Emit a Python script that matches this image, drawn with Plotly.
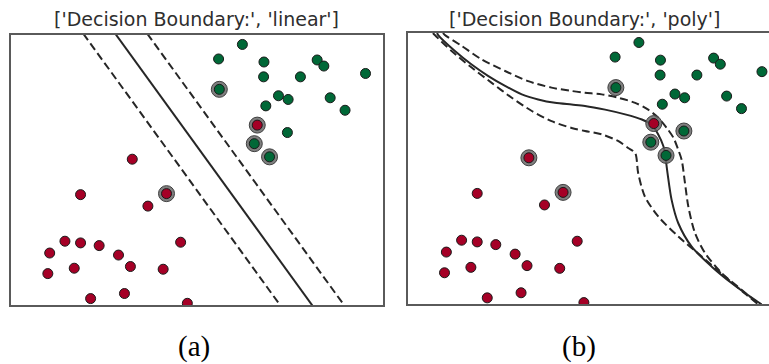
import numpy as np
import plotly.graph_objects as go

# ---------------- data ----------------
green_x = [6.22, 5.58, 6.80, 8.23, 8.41, 9.53, 6.79, 7.78, 5.60, 7.19, 7.45, 8.58, 6.85, 8.98, 7.43, 6.54, 6.95]
green_y = [7.72, 7.29, 7.20, 7.26, 7.08, 6.86, 6.76, 6.76, 6.39, 6.20, 6.09, 6.14, 5.90, 5.77, 5.11, 4.78, 4.39]
red_x = [6.62, 3.26, 1.87, 4.18, 3.68, 1.45, 1.87, 2.37, 4.56, 1.04, 2.89, 1.70, 3.21, 4.09, 0.99, 2.14, 3.05, 4.74]
red_y = [5.33, 4.32, 3.27, 3.30, 2.93, 1.89, 1.84, 1.76, 1.86, 1.54, 1.48, 1.09, 1.14, 1.06, 0.93, 0.19, 0.34, 0.05]

# support vector indices
sv_linear_green = [8, 15, 16]
sv_linear_red = [0, 3]
sv_poly_green = [8, 14, 15, 16]
sv_poly_red = [0, 1, 3]

# linear decision function  w1*x + w2*y + b
lin_w = [1.163, 0.765]
lin_b = -9.41
lin_levels = [-1, 0, 1]

# poly kernel boundary (f = 0) and margins (f = +/-1)
poly_zero_x = [0.79, 0.82, 1.27, 1.72, 2.17, 2.62, 3.07, 3.51, 3.96, 4.41, 4.77, 5.31, 5.85, 6.30, 6.56, 6.74, 6.88, 6.92, 6.99, 7.10, 7.28, 7.64, 8.18, 8.72, 9.34, 9.52]
poly_zero_y = [8.00, 7.94, 7.47, 7.07, 6.73, 6.44, 6.19, 6.04, 5.94, 5.89, 5.85, 5.74, 5.60, 5.45, 5.30, 5.01, 4.66, 4.46, 3.87, 3.08, 2.39, 1.70, 1.11, 0.62, 0.13, 0.00]
poly_pos_x = [0.95, 1.00, 1.45, 1.99, 2.62, 3.24, 3.87, 4.41, 4.77, 5.22, 5.67, 6.12, 6.47, 6.74, 6.97, 7.15, 7.26, 7.37, 7.46, 7.55, 7.73, 8.00, 8.45, 8.99, 9.43, 9.48]
poly_pos_y = [8.00, 7.94, 7.62, 7.22, 6.88, 6.58, 6.39, 6.29, 6.24, 6.19, 6.09, 5.94, 5.74, 5.50, 5.20, 4.91, 4.61, 4.26, 3.57, 2.88, 2.10, 1.51, 0.92, 0.42, 0.03, 0.00]
poly_neg_x = [0.68, 0.73, 1.18, 1.72, 2.26, 2.80, 3.34, 3.87, 4.41, 4.77, 5.22, 5.67, 5.93, 6.12, 6.20, 6.38, 6.74, 7.28, 7.91, 8.54, 9.07, 9.43]
poly_neg_y = [8.00, 7.94, 7.47, 6.98, 6.53, 6.09, 5.70, 5.40, 5.20, 5.11, 5.01, 4.81, 4.61, 4.46, 3.87, 3.18, 2.59, 2.00, 1.41, 0.81, 0.32, 0.00]

titles = ["['Decision Boundary:', 'linear']", "['Decision Boundary:', 'poly']"]
captions = ["(a)", "(b)"]

# ---------------- styles ----------------
RED = "#a50026"
GREEN = "#006837"
LINE = "#262626"
FRAME = "#5a5a5a"
DASH = "8px,4px"
W, H = 769, 364

fig = go.Figure()


def add_panel(xa, ya, sv_g, sv_r):
    gx = np.array(green_x); gy = np.array(green_y)
    rx = np.array(red_x); ry = np.array(red_y)
    svx = list(gx[sv_g]) + list(rx[sv_r])
    svy = list(gy[sv_g]) + list(ry[sv_r])
    fig.add_trace(go.Scatter(x=svx, y=svy, mode="markers", xaxis=xa, yaxis=ya,
                             marker=dict(size=16, color="rgba(105,105,105,0.85)",
                                         line=dict(width=1, color="#404040")),
                             showlegend=False, hoverinfo="skip"))
    fig.add_trace(go.Scatter(x=green_x, y=green_y, mode="markers", xaxis=xa, yaxis=ya,
                             marker=dict(size=10, color=GREEN, line=dict(width=1, color="#1a1a1a")),
                             showlegend=False))
    fig.add_trace(go.Scatter(x=red_x, y=red_y, mode="markers", xaxis=xa, yaxis=ya,
                             marker=dict(size=10, color=RED, line=dict(width=1, color="#1a1a1a")),
                             showlegend=False))


# left: linear kernel lines
yy = np.array([-0.5, 8.5])
for lev in lin_levels:
    xx = (lev - lin_b - lin_w[1] * yy) / lin_w[0]
    fig.add_trace(go.Scatter(x=xx, y=yy, mode="lines", xaxis="x", yaxis="y",
                             line=dict(color=LINE, width=2,
                                       dash="solid" if lev == 0 else DASH),
                             showlegend=False, hoverinfo="skip"))
add_panel("x", "y", sv_linear_green, sv_linear_red)

# right: poly kernel curves
for cx, cy, d in [(poly_neg_x, poly_neg_y, DASH),
                  (poly_pos_x, poly_pos_y, DASH),
                  (poly_zero_x, poly_zero_y, "solid")]:
    fig.add_trace(go.Scatter(x=cx, y=cy, mode="lines", xaxis="x2", yaxis="y2",
                             line=dict(color=LINE, width=2, dash=d, shape="spline", smoothing=0.8),
                             showlegend=False, hoverinfo="skip"))
add_panel("x2", "y2", sv_poly_green, sv_poly_red)

ax_common = dict(showticklabels=False, ticks="", showgrid=False, zeroline=False,
                 showline=True, linecolor=FRAME, linewidth=1.5)

fig.update_layout(
    width=W, height=H, margin=dict(l=0, r=0, t=0, b=0),
    paper_bgcolor="white", plot_bgcolor="white",
    xaxis=dict(domain=[11 / W, 383 / W], range=[0, 10], mirror=True, **ax_common),
    yaxis=dict(domain=[59 / H, 329 / H], range=[0, 8], mirror=True, **ax_common),
    xaxis2=dict(domain=[407.7 / W, 1.0], range=[0, 9.72], mirror=True, anchor="y2", **ax_common),
    yaxis2=dict(domain=[59.7 / H, 331 / H], range=[0, 8], mirror=False, anchor="x2", **ax_common),
)

title_x = [196, 584]
cap_x = [194, 579]
for tx, t in zip(title_x, titles):
    fig.add_annotation(x=tx / W, y=(H - 19) / H, xref="paper", yref="paper",
                       text=t, showarrow=False, xanchor="center", yanchor="middle",
                       font=dict(family="DejaVu Sans", size=19, color="#2e2e2e"))
for cx, c in zip(cap_x, captions):
    fig.add_annotation(x=cx / W, y=(H - 346) / H, xref="paper", yref="paper",
                       text=c, showarrow=False, xanchor="center", yanchor="middle",
                       font=dict(family="Liberation Serif", size=29, color="black"))

fig.write_html("out.html")
